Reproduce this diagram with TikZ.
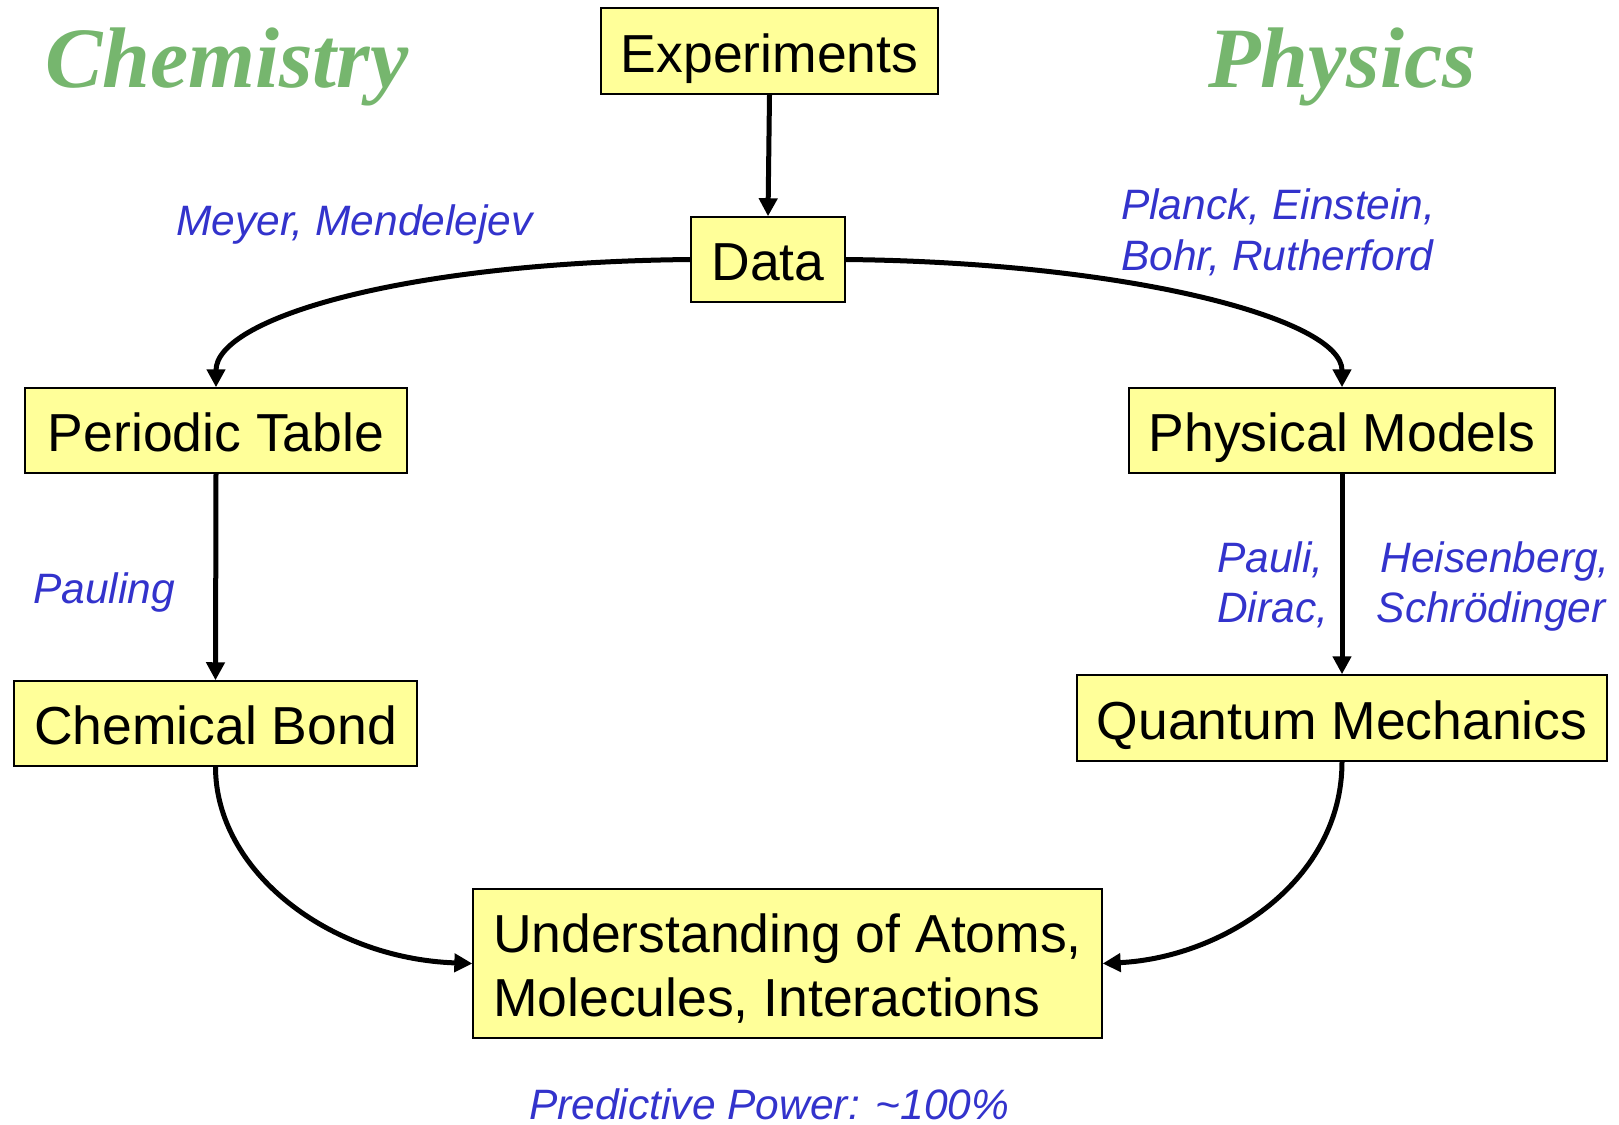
\documentclass[tikz,border=0pt]{standalone}
\usepackage{fontspec}
\setmainfont{Liberation Sans}
\newfontfamily\titlefont{Liberation Serif}
\usetikzlibrary{arrows.meta}
\definecolor{titlegreen}{RGB}{118,182,110}
\definecolor{namesblue}{RGB}{51,51,204}
\definecolor{boxyellow}{RGB}{255,255,153}
\tikzset{
  boxbase/.style={draw=black, line width=1.5pt, fill=boxyellow, inner sep=0pt,
    minimum height=85pt, font=\fontsize{53.5}{64}\selectfont},
  box/.style={boxbase, text height=42pt, text depth=0pt},
  conn/.style={line width=5pt, -{Triangle[length=18pt,width=18pt]}},
  names/.style={text=namesblue, inner sep=0pt, anchor=base west,
    font=\fontsize{42.5}{51}\selectfont\itshape},
  heading/.style={text=titlegreen, inner sep=0pt, anchor=base west,
    font=\fontsize{86}{98}\selectfont\titlefont\bfseries\itshape}
}
\begin{document}
\begin{tikzpicture}[x=1pt,y=-1pt]
\useasboundingbox (0,0) rectangle (1619,1124);
% titles
\node[heading] (chem) at (45,88) {Chemistry};
\node[heading] (phys) at (1208,88) {Physics};
% boxes
\node[box, minimum width=337pt, minimum height=86pt] (exp) at (769.5,51) {Experiments};
\node[box, minimum width=154pt] (data) at (768,259.5) {Data};
\node[box, minimum width=382pt] (pt) at (216,430.5) {Periodic Table};
\node[box, minimum width=426pt] (pm) at (1342,430.5) {Physical Models};
\node[box, minimum width=403pt] (cb) at (215.5,723.5) {Chemical Bond};
\node[box, minimum width=530pt, minimum height=86pt] (qm) at (1342,718) {Quantum Mechanics};
\node[boxbase, minimum height=149pt, minimum width=627pt, inner xsep=20pt,
  align=left] (und) at (787.5,963.5)
  {\rule{0pt}{49pt}Understanding of Atoms,\\Molecules, Interactions};
% labels
\node[names] (mm) at (176,235) {Meyer, Mendelejev};
\node[names, align=left, anchor=north west] (peb) at (1121,189) {Planck, Einstein,\\Bohr, Rutherford};
\node[names] (pauling) at (33,603) {Pauling};
\node[names] (pauli) at (1217,572) {Pauli,};
\node[names] (dirac) at (1217,622) {Dirac,};
\node[names, anchor=base east] (heis) at (1610,572) {Heisenberg,};
\node[names, anchor=base east] (schr) at (1606,622) {Schrödinger};
\node[names] (pp) at (529,1119) {Predictive Power: \textasciitilde100\%};
% connectors
\draw[conn] (exp.south) -- (data.north);
\draw[conn] (data.west) .. controls +(-291,3) and +(0,-68) .. (pt.north);
\draw[conn] (data.east) .. controls +(285,3) and +(0,-68) .. (pm.north);
\draw[conn] (pt.south) -- (cb.north);
\draw[conn] (pm.south) -- (qm.north);
\draw[conn] (cb.south) .. controls +(0,104) and +(-144,-5) .. (und.west);
\draw[conn] (qm.south) .. controls +(0,119) and +(121,-6) .. (und.east);
\end{tikzpicture}
\end{document}
